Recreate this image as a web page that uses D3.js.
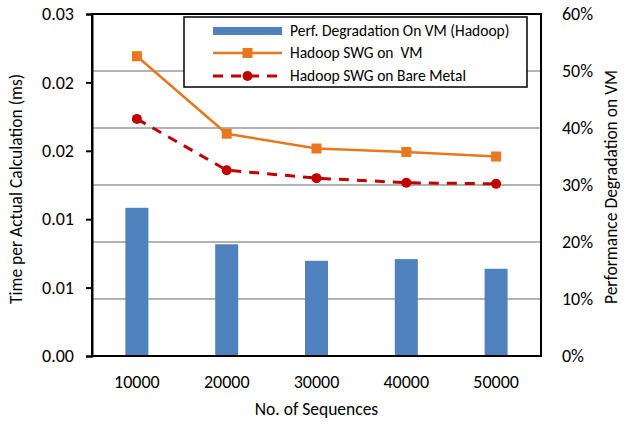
<!DOCTYPE html>
<html><head><meta charset="utf-8">
<script src="https://cdn.jsdelivr.net/npm/d3@7"></script>
<style>
body{margin:0;background:#fff;}
text{font-family:Carlito,Lato,"Open Sans",sans-serif;fill:#000;white-space:pre;}
</style></head>
<body><svg id="c" width="627" height="429"></svg>
<script>
const categories = ["10000","20000","30000","40000","50000"];
const degradation = [0.260, 0.196, 0.167, 0.170, 0.153];
const swgVM = [0.0263, 0.0195, 0.0182, 0.0179, 0.0175];
const swgBare = [0.0208, 0.0163, 0.0156, 0.0152, 0.0151];
const leftTicks = [0, 0.006, 0.012, 0.018, 0.024, 0.03];
const rightTicks = [0, 0.1, 0.2, 0.3, 0.4, 0.5, 0.6];
const seriesNames = ["Perf. Degradation On VM (Hadoop)", "Hadoop SWG on  VM", "Hadoop SWG on Bare Metal"];

const svg = d3.select("#c");
const L = 92, R = 541, T = 14, B = 356;
const x = d3.scaleBand().domain(categories).range([L, R]);
const yL = d3.scaleLinear().domain([0, 0.03]).range([B, T]);
const yR = d3.scaleLinear().domain([0, 0.6]).range([B, T]);

// gridlines (right axis)
svg.append("g").selectAll("line").data(rightTicks.slice(1, -1)).join("line")
  .attr("x1", L).attr("x2", R).attr("y1", d => yR(d)).attr("y2", d => yR(d))
  .attr("stroke", "#999").attr("stroke-width", 1.5);

// bars
const bw = 23;
svg.append("g").selectAll("rect").data(degradation).join("rect")
  .attr("x", (d, i) => x(categories[i]) + x.bandwidth() / 2 - bw / 2)
  .attr("width", bw)
  .attr("y", d => yR(d)).attr("height", d => B - yR(d))
  .attr("fill", "#4F81BD");

// lines
const lineGen = d3.line().x((d, i) => x(categories[i]) + x.bandwidth() / 2).y(d => yL(d));
svg.append("path").datum(swgBare).attr("d", lineGen).attr("fill", "none")
  .attr("stroke", "#C00000").attr("stroke-width", 3).attr("stroke-dasharray", "10,8");
svg.append("g").selectAll("circle").data(swgBare).join("circle")
  .attr("cx", (d, i) => x(categories[i]) + x.bandwidth() / 2).attr("cy", d => yL(d))
  .attr("r", 5).attr("fill", "#C00000");
svg.append("path").datum(swgVM).attr("d", lineGen).attr("fill", "none")
  .attr("stroke", "#E8771E").attr("stroke-width", 2.5);
svg.append("g").selectAll("rect").data(swgVM).join("rect")
  .attr("x", (d, i) => x(categories[i]) + x.bandwidth() / 2 - 5).attr("y", d => yL(d) - 5)
  .attr("width", 10).attr("height", 10).attr("fill", "#E8771E");

// frame
svg.append("rect").attr("x", L).attr("y", T).attr("width", R - L).attr("height", B - T)
  .attr("fill", "none").attr("stroke", "#000").attr("stroke-width", 2);

// left axis
const fmtL = d3.format(".2f");
const gl = svg.append("g").attr("transform", `translate(${L},0)`)
  .call(d3.axisLeft(yL).tickValues(leftTicks).tickFormat(fmtL).tickSize(6).tickPadding(12));
gl.select(".domain").attr("stroke", "#000").attr("stroke-width", 2);
gl.selectAll(".tick line").attr("stroke", "#000").attr("stroke-width", 2);
gl.selectAll("text").style("font-size", "18px").attr("fill", "#000");

// right axis
const gr = svg.append("g").attr("transform", `translate(${R},0)`)
  .call(d3.axisRight(yR).tickValues(rightTicks).tickFormat(d3.format(".0%")).tickSize(0).tickPadding(21));
gr.select(".domain").remove();
gr.selectAll("text").style("font-size", "18px").attr("fill", "#000");

// bottom axis labels
const gb = svg.append("g").attr("transform", `translate(0,${B})`)
  .call(d3.axisBottom(x).tickSize(0).tickPadding(19));
gb.select(".domain").remove();
gb.selectAll("text").style("font-size", "18px").attr("fill", "#000");

// titles
svg.append("text").attr("transform", `translate(22,${(T + B) / 2 + 4}) rotate(-90)`)
  .attr("text-anchor", "middle").style("font-size", "17.5px").text("Time per Actual Calculation (ms)");
svg.append("text").attr("transform", `translate(617,${(T + B) / 2 + 2}) rotate(-90)`)
  .attr("text-anchor", "middle").style("font-size", "17.5px").text("Performance Degradation on VM");
svg.append("text").attr("x", (L + R) / 2).attr("y", 415)
  .attr("text-anchor", "middle").style("font-size", "17.5px").text("No. of Sequences");

// legend
const lg = svg.append("g");
lg.append("rect").attr("x", 184).attr("y", 17).attr("width", 343).attr("height", 70)
  .attr("fill", "#fff").attr("stroke", "#000").attr("stroke-width", 1.5);
const rows = [31, 53, 76];
lg.append("rect").attr("x", 213).attr("y", rows[0] - 4).attr("width", 69).attr("height", 8).attr("fill", "#4F81BD");
lg.append("line").attr("x1", 213).attr("x2", 282).attr("y1", rows[1]).attr("y2", rows[1])
  .attr("stroke", "#E8771E").attr("stroke-width", 2.5);
lg.append("rect").attr("x", 242.5).attr("y", rows[1] - 5).attr("width", 10).attr("height", 10).attr("fill", "#E8771E");
lg.append("line").attr("x1", 213).attr("x2", 282).attr("y1", rows[2]).attr("y2", rows[2])
  .attr("stroke", "#C00000").attr("stroke-width", 3).attr("stroke-dasharray", "10,8");
lg.append("circle").attr("cx", 247.5).attr("cy", rows[2]).attr("r", 5).attr("fill", "#C00000");
lg.selectAll("text.leg").data(seriesNames).join("text").attr("class", "leg")
  .attr("x", 290).attr("y", (d, i) => rows[i] + 5).attr("xml:space", "preserve")
  .style("font-size", "15.5px").text(d => d);
</script></body></html>
